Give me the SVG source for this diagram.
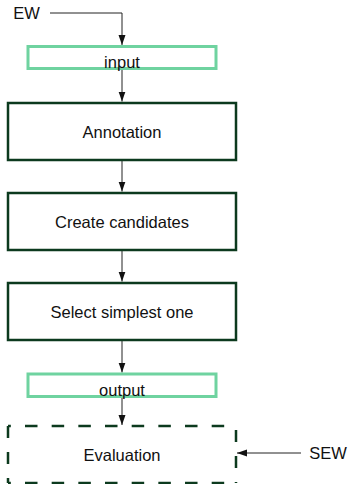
<svg xmlns="http://www.w3.org/2000/svg" width="350" height="484" viewBox="0 0 350 484">
<style>
text{font-family:"Liberation Sans",Arial,sans-serif;font-size:16.5px;fill:#111;text-anchor:middle}
.io{fill:none;stroke:#6fd3a0;stroke-width:3}
.step{fill:#fff;stroke:#0c3a1e;stroke-width:2.5}
.dash{stroke:#0c3a1e;stroke-width:2.5;fill:none}
.conn{stroke:#222;stroke-width:1;fill:none}
</style>
<defs>
<marker id="ah" markerUnits="userSpaceOnUse" markerWidth="10" markerHeight="8" refX="10" refY="3.5" orient="auto">
<path d="M0,0 L10,3.5 L0,7 z" fill="#111"/>
</marker>
</defs>
<rect width="350" height="484" fill="#fff"/>
<g id="connectors">
<polyline class="conn" points="50,13 122,13 122,45" marker-end="url(#ah)"/>
<line class="conn" x1="122" y1="69" x2="122" y2="101.5" marker-end="url(#ah)"/>
<line class="conn" x1="122" y1="161" x2="122" y2="191.5" marker-end="url(#ah)"/>
<line class="conn" x1="122" y1="251" x2="122" y2="281.5" marker-end="url(#ah)"/>
<line class="conn" x1="122" y1="341" x2="122" y2="372.5" marker-end="url(#ah)"/>
<line class="conn" x1="122" y1="398" x2="122" y2="425" marker-end="url(#ah)"/>
<line class="conn" x1="301" y1="453" x2="237" y2="453" marker-end="url(#ah)"/>
</g>
<g id="EW"><text x="26.5" y="19">EW</text></g>
<g id="SEW"><text x="328" y="459">SEW</text></g>
<g id="input">
<rect class="io" x="28" y="46.5" width="188" height="22"/>
<text x="122" y="68">input</text>
</g>
<g id="annotation">
<rect class="step" x="8" y="103" width="228" height="57"/>
<text x="122" y="138">Annotation</text>
</g>
<g id="create">
<rect class="step" x="8" y="193" width="228" height="57"/>
<text x="122" y="228">Create candidates</text>
</g>
<g id="select">
<rect class="step" x="8" y="283" width="228" height="57"/>
<text x="122" y="318">Select simplest one</text>
</g>
<g id="output">
<rect class="io" x="28" y="374" width="188" height="22.5"/>
<text x="122" y="395.5">output</text>
</g>
<g id="evaluation">
<line class="dash" x1="8" y1="426" x2="236" y2="426" stroke-dasharray="12.5 14.17" stroke-dashoffset="9.67"/>
<line class="dash" x1="8" y1="483" x2="236" y2="483" stroke-dasharray="12.5 14.17" stroke-dashoffset="9.67"/>
<line class="dash" x1="8" y1="426" x2="8" y2="483" stroke-dasharray="12 14"/>
<line class="dash" x1="236" y1="426" x2="236" y2="483" stroke-dasharray="12 14" stroke-dashoffset="-4"/>
<text x="122" y="461">Evaluation</text>
</g>
</svg>
